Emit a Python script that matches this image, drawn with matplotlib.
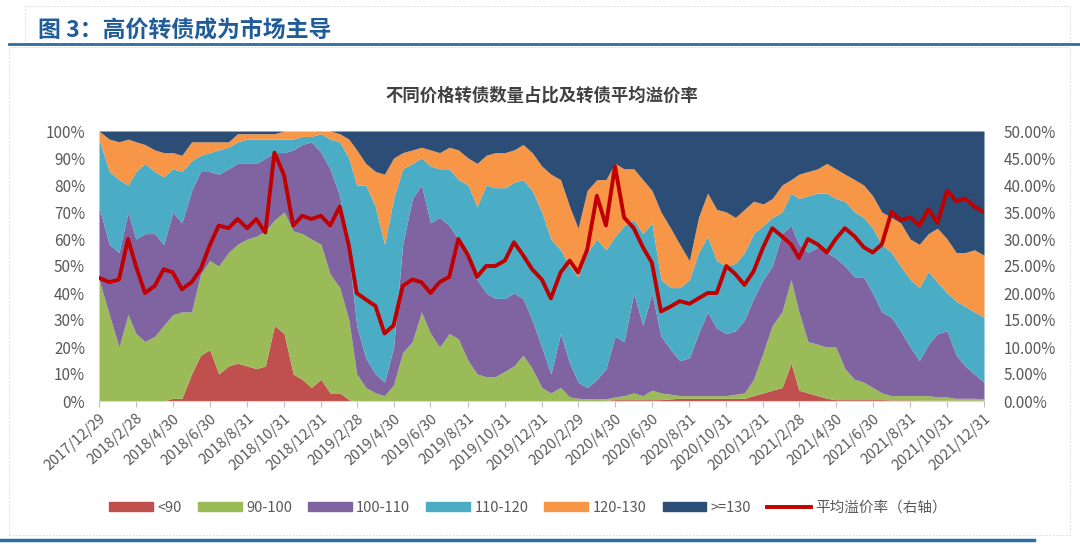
import pandas as pd
import matplotlib
matplotlib.use("Agg")
import matplotlib.pyplot as plt
import matplotlib.ticker as mtick
from matplotlib.patches import Patch, Rectangle
from matplotlib.lines import Line2D

plt.rcParams['font.family'] = ['Noto Sans CJK SC', 'DejaVu Sans']

# 半月采样的日期：2017/12/29 之后每月 15 日和月末
dates = [pd.Timestamp(2017, 12, 29)]
for y in range(2018, 2022):
    for m in range(1, 13):
        dates.append(pd.Timestamp(y, m, 15))
        dates.append(pd.Timestamp(y, m, pd.Timestamp(y, m, 1).days_in_month))

# 各价格区间的累计占比（%），即每个面积带的上沿
top_lt90 = [0, 0, 0, 0, 0, 0, 0, 0, 1, 1, 10, 17, 19, 10, 13, 14, 13, 12, 13, 28,
            25, 10, 8, 5, 8, 3, 3, 0.5, 0, 0, 0, 0, 0, 0, 0, 0, 0, 0, 0, 0,
            0, 0, 0, 0, 0, 0, 0, 0, 0, 0, 0, 0, 0, 0, 0, 0.3, 0.5, 0.5, 0.5, 0.5,
            0.5, 0.5, 0.8, 1, 1, 1, 1, 1, 1, 1, 1, 2, 3, 4, 5, 14, 4, 3, 2, 1,
            0.5, 0.5, 0.5, 0.5, 0.5, 0.5, 0.4, 0.4, 0.4, 0.3, 0.3, 0.3, 0.3, 0.3, 0.3, 0.3,
            0.3]
top_90_100 = [45, 32, 20, 32, 25, 22, 24, 28, 32, 33, 33, 47, 52, 50, 55, 58, 60, 61, 63, 67,
              70, 63, 62, 60, 58, 47, 42, 30, 10, 5, 3, 2, 6, 18, 22, 33, 25, 20, 25, 23,
              15, 10, 9, 9, 11, 13, 17, 12, 5, 3, 5, 1.5, 1, 0.8, 0.8, 0.8, 1.5, 2, 3, 2,
              4, 3, 2.5, 2, 2, 2, 2, 2, 2, 2.5, 3, 8, 18, 28, 33, 45, 33, 22, 21, 20,
              20, 12, 8, 7, 5, 3, 2, 2, 2, 2, 2, 1.5, 1.5, 1, 1, 1,
              0.8]
top_100_110 = [72, 58, 55, 70, 60, 62, 62, 58, 70, 66, 78, 85, 85, 84, 86, 88, 88, 88, 90, 92,
               92, 93, 95, 96, 92, 86, 76, 55, 28, 16, 10, 7, 20, 58, 75, 80, 66, 68, 65, 60,
               55, 45, 40, 38, 38, 40, 38, 30, 20, 10, 25, 14, 7, 5, 8, 12, 24, 22, 40, 28,
               40, 24, 19, 15, 16, 25, 33, 27, 25, 26, 30, 38, 45, 50, 62, 65, 58, 55, 57, 55,
               53, 50, 46, 46, 40, 33, 31, 26, 20, 15, 21, 25, 26, 17, 13, 10,
               7]
top_110_120 = [97, 85, 82, 80, 85, 88, 85, 83, 86, 85, 89, 91, 92, 93, 94, 96, 97, 97, 97, 97,
               97, 97, 98, 98, 99, 97, 96, 90, 80, 80, 72, 58, 75, 86, 88, 90, 87, 86, 86, 82,
               80, 72, 80, 79, 79, 81, 82, 78, 70, 60, 56, 50, 46, 55, 60, 56, 61, 65, 67, 62,
               66, 45, 42, 42, 45, 55, 61, 52, 50, 51, 55, 62, 65, 68, 70, 77, 75, 76, 77, 77,
               75, 74, 70, 68, 64, 58, 55, 50, 45, 42, 48, 44, 40, 37, 35, 33,
               31]
top_120_130 = [100, 97, 96, 97, 96, 95, 93, 92, 92, 91, 96, 96, 96, 96, 96, 99, 99, 99, 99, 99,
               100, 100, 100, 100, 100, 100, 99, 97, 93, 88, 85, 84, 90, 92, 93, 94, 93, 92, 94, 93,
               90, 88, 91, 92, 92, 93, 95, 92, 87, 84, 82, 72, 64, 78, 82, 82, 88, 86, 86, 82,
               78, 70, 64, 58, 52, 68, 77, 71, 70, 68, 71, 74, 73, 75, 80, 82, 84, 85, 86, 88,
               86, 84, 82, 80, 76, 70, 68, 66, 60, 58, 62, 64, 60, 55, 55, 56,
               54]
top_ge130 = [100] * len(dates)

# 平均溢价率（%，右轴）
premium = [22.8, 22, 22.5, 30, 25, 20, 21.3, 24.4, 23.8, 20.7, 22, 24.4, 28.8, 32.5, 32, 33.7, 32, 33.7, 31.2, 46,
           41.8, 32.5, 34.3, 33.7, 34.3, 32.5, 36, 28.8, 20, 18.8, 17.6, 12.5, 14, 21.3, 22.5, 22, 20, 22, 23, 30,
           27, 23, 25, 25, 26, 29.4, 27, 24.4, 22.5, 19, 23.8, 26, 23.8, 28, 38, 32.5, 43.5, 34, 32, 28.5,
           25.6, 16.6, 17.5, 18.5, 18, 19, 20, 20, 25, 23.5, 21.5, 24, 28.5, 32, 30.5, 29, 26.5, 30, 29, 27.5,
           30, 32, 30.5, 28.5, 27.5, 29, 35, 33.5, 34, 32.5, 35.5, 33, 39, 37, 37.5, 36,
           35]

labels = ['<90', '90-100', '100-110', '110-120', '120-130', '>=130']
colors = ['#c0504d', '#9bbb59', '#8064a2', '#4bacc6', '#f79646', '#2c4d75']
tick_dates = ['2017/12/29', '2018/2/28', '2018/4/30', '2018/6/30', '2018/8/31', '2018/10/31',
              '2018/12/31', '2019/2/28', '2019/4/30', '2019/6/30', '2019/8/31', '2019/10/31',
              '2019/12/31', '2020/2/29', '2020/4/30', '2020/6/30', '2020/8/31', '2020/10/31',
              '2020/12/31', '2021/2/28', '2021/4/30', '2021/6/30', '2021/8/31', '2021/10/31',
              '2021/12/31']

gray = '#595959'
fig = plt.figure(figsize=(10.8, 5.52), dpi=100)

# 页面装饰：标题、蓝线、虚线框
fig.text(0.035, 0.945, '图 3：高价转债成为市场主导', fontsize=16.5, fontweight='bold',
         color='#1f5c99', va='center')
fig.add_artist(Line2D([0.008, 1.0], [0.920, 0.920], color='#2e6da4', lw=2))
fig.add_artist(Line2D([0.0, 0.957], [0.022, 0.022], color='#2e6da4', lw=2.5))
fig.add_artist(Rectangle((0.008, 0.03), 0.983, 0.885, fill=False, ls=(0, (2, 2)),
                         lw=0.6, ec='#d5d5d5'))
fig.add_artist(Rectangle((0.023, 0.922), 0.968, 0.068, fill=False, ls=(0, (2, 2)),
                         lw=0.6, ec='#d5d5d5'))

fig.text(0.502, 0.826, '不同价格转债数量占比及转债平均溢价率', fontsize=12.5, fontweight='bold',
         color='#404040', ha='center', va='center')

ax = fig.add_axes([99 / 1080, 1 - 401 / 552, 885 / 1080, 270 / 552])
tops = [top_lt90, top_90_100, top_100_110, top_110_120, top_120_130, top_ge130]
lower = [0] * len(dates)
for top, c in zip(tops, colors):
    ax.fill_between(dates, lower, top, color=c, lw=0)
    lower = top

ax.set_ylim(0, 100)
ax.set_xlim(dates[0], dates[-1])
ax.set_yticks(range(0, 101, 10))
ax.yaxis.set_major_formatter(mtick.FuncFormatter(lambda v, p: f'{v:.0f}%'))
ticks = pd.to_datetime(tick_dates)
ax.set_xticks(ticks)
ax.set_xticklabels(tick_dates, rotation=42, ha='right', rotation_mode='anchor')
for s in ['top', 'left', 'right']:
    ax.spines[s].set_visible(False)
ax.spines['bottom'].set_color('#d9d9d9')
ax.tick_params(axis='x', colors='#bfbfbf', labelcolor=gray, labelsize=10.5, length=4)
ax.tick_params(axis='y', length=0, labelcolor=gray, labelsize=11, pad=10)

ax2 = ax.twinx()
ax2.plot(dates, premium, color='#c00000', lw=2.8)
ax2.set_ylim(0, 50)
ax2.set_yticks(range(0, 51, 5))
ax2.yaxis.set_major_formatter(mtick.FuncFormatter(lambda v, p: f'{v:.2f}%'))
for s in ['top', 'left', 'right', 'bottom']:
    ax2.spines[s].set_visible(False)
ax2.tick_params(axis='y', length=0, labelcolor=gray, labelsize=11, pad=14)

handles = [Patch(color=c, label=l) for c, l in zip(colors, labels)]
handles.append(Line2D([], [], color='#c00000', lw=2.8, label='平均溢价率（右轴）'))
fig.legend(handles=handles, loc='center', bbox_to_anchor=(0.489, 0.08), ncol=7,
           frameon=False, fontsize=10.5, labelcolor=gray, handlelength=3.0,
           handleheight=0.55, columnspacing=1.1, handletextpad=0.3)

fig.savefig('out.png', dpi=100)
